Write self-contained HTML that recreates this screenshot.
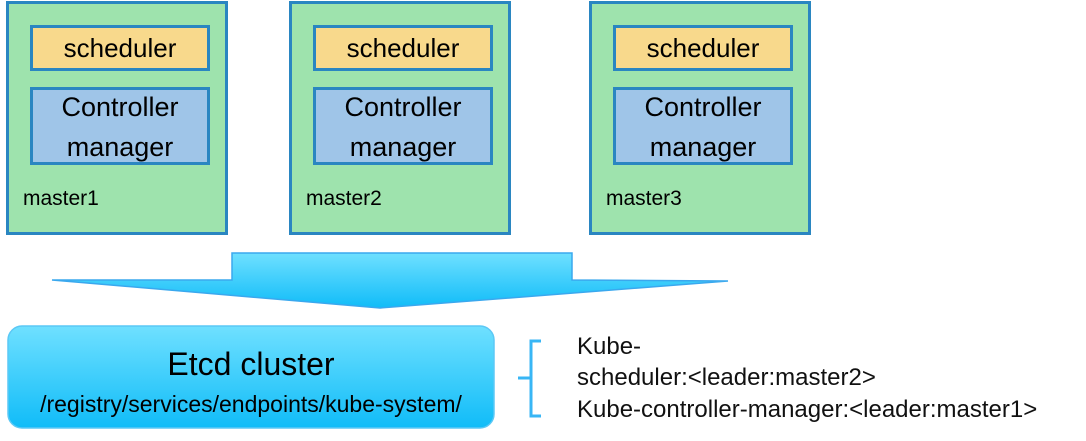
<!DOCTYPE html>
<html><head><meta charset="utf-8"><style>
body{margin:0;width:1086px;height:441px;background:#fff;position:relative;overflow:hidden;font-family:"Liberation Sans",sans-serif}
.m{position:absolute;top:1px;width:216px;height:228px;background:#9ee3ad;border:3px solid #2a86c1;box-sizing:content-box}
.s{position:absolute;left:21px;top:21px;width:174px;height:40px;background:#f8d98c;border:3px solid #2a86c1;text-align:center;font-size:26px;line-height:40px;white-space:nowrap}
.c{position:absolute;left:21px;top:83px;width:174px;height:72px;background:#9fc5e8;border:3px solid #2a86c1;text-align:center;font-size:27px;line-height:40px;white-space:nowrap}
.c span{position:relative;top:-3px}
.l{position:absolute;left:14px;top:183px;font-size:21px}
.t{position:absolute;left:577px;font-size:24px;color:#111;white-space:nowrap}
</style></head><body>
<div class="m" style="left:6px"><div class="s">scheduler</div><div class="c"><span>Controller<br>manager</span></div><div class="l">master1</div></div>
<div class="m" style="left:289px"><div class="s">scheduler</div><div class="c"><span>Controller<br>manager</span></div><div class="l">master2</div></div>
<div class="m" style="left:589px"><div class="s">scheduler</div><div class="c"><span>Controller<br>manager</span></div><div class="l">master3</div></div>
<svg width="1086" height="441" style="position:absolute;left:0;top:0">
<defs><linearGradient id="g" x1="0" y1="0" x2="0" y2="1"><stop offset="0" stop-color="#6fe0ff"/><stop offset="1" stop-color="#10bcf8"/></linearGradient></defs>
<polygon points="232,253 572,253 572,280 728,281 380,308 52,280 232,280" fill="url(#g)" stroke="#3aa8ee" stroke-width="1.5"/>
<rect x="8" y="326" width="486" height="102" rx="14" fill="url(#g)" stroke="#5cc8f5" stroke-width="1.5"/>
<path d="M541,341 H531 V378 H518 H531 V416 H541" fill="none" stroke="#38b6f5" stroke-width="3"/>
</svg>
<div style="position:absolute;left:8px;top:346px;width:486px;text-align:center;font-size:32px">Etcd cluster</div>
<div style="position:absolute;left:8px;top:391px;width:486px;text-align:center;font-size:23px;white-space:nowrap">/registry/services/endpoints/kube-system/</div>
<div class="t" style="top:333px">Kube-</div>
<div class="t" style="top:364px">scheduler:&lt;leader:master2&gt;</div>
<div class="t" style="top:396px">Kube-controller-manager:&lt;leader:master1&gt;</div>
</body></html>
